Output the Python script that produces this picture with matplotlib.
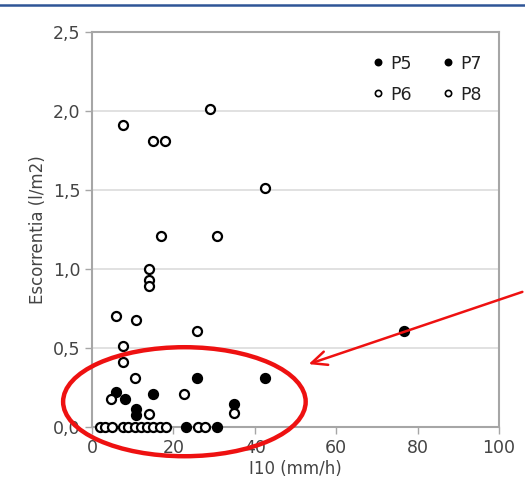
import matplotlib
matplotlib.use('Agg')
import matplotlib.pyplot as plt
from matplotlib.patches import Ellipse
from matplotlib.lines import Line2D

# filled points (P5, P7) and open points (P6, P8)
p5_x = [76.7, 25.8, 42.6, 6.0, 8.0, 15.1]
p5_y = [0.605, 0.31, 0.31, 0.22, 0.18, 0.21]
p7_x = [10.7, 10.7, 34.8, 23.0, 30.6]
p7_y = [0.115, 0.076, 0.146, 0.0, 0.0]
p6_x = [7.7, 15.0, 18.0, 29.0, 42.5, 17.0, 30.7, 14.0, 14.0, 14.0, 5.8, 10.8]
p6_y = [1.91, 1.81, 1.81, 2.01, 1.51, 1.21, 1.21, 1.0, 0.93, 0.89, 0.70, 0.675]
p8_x = [25.9, 7.7, 7.7, 10.6, 4.7, 22.7, 14.0, 34.8,
        1.9, 3.3, 4.8, 7.6, 8.9, 10.5, 12.1, 13.6, 15.0, 16.7, 18.3, 26.1, 27.8]
p8_y = [0.61, 0.51, 0.41, 0.31, 0.18, 0.21, 0.08, 0.087,
        0, 0, 0, 0, 0, 0, 0, 0, 0, 0, 0, 0, 0]

xticks = [0, 20, 40, 60, 80, 100]
yticks = [0.0, 0.5, 1.0, 1.5, 2.0, 2.5]
ytick_labels = ['0,0', '0,5', '1,0', '1,5', '2,0', '2,5']

fig = plt.figure(figsize=(5.25, 4.99), dpi=100)
ax = fig.add_axes([92/525, 1 - 427/499, 407/525, 395/499])

txt = '#444444'
for xs, ys, lab, filled in [(p5_x, p5_y, 'P5', True), (p6_x, p6_y, 'P6', False),
                            (p7_x, p7_y, 'P7', True), (p8_x, p8_y, 'P8', False)]:
    ax.plot(xs, ys, 'o', ms=6.5, mew=1.6, mec='black',
            mfc='black' if filled else 'white', ls='none', label=lab,
            clip_on=False, zorder=3)

ax.set_xlim(0, 100)
ax.set_ylim(0, 2.5)
ax.set_xticks(xticks)
ax.set_yticks(yticks)
ax.set_yticklabels(ytick_labels)
ax.grid(axis='y', color='#dcdcdc', lw=1.2)
ax.set_axisbelow(True)
for s in ax.spines.values():
    s.set_color('#a6a6a6')
    s.set_linewidth(1.5)
ax.tick_params(colors='#a6a6a6', labelcolor=txt, labelsize=12.5, length=5, width=1)
ax.set_xlabel('I10 (mm/h)', fontsize=12, color=txt, labelpad=2)
ax.set_ylabel('Escorrentia (l/m2)', fontsize=12, color=txt, labelpad=4)

handles = [Line2D([], [], marker='o', ls='none', ms=4.5, mew=1.2, mec='black',
                  mfc='black' if f else 'white') for f in [True, False, True, False]]
ax.legend(handles, ['P5', 'P6', 'P7', 'P8'], ncol=2, loc='upper right', frameon=False,
          fontsize=12.5, handletextpad=0.1, columnspacing=1.5, labelspacing=0.75,
          handlelength=1.2, borderaxespad=0, bbox_to_anchor=(1 - 10/407, 1 - 15.6/395),
          labelcolor='#222222')

# red ellipse annotation
ell = Ellipse((22.7, 0.16), 59.6, 0.69, fill=False, ec='#ee1111', lw=3.2, clip_on=False, zorder=4)
ax.add_patch(ell)
ax.annotate('', xy=(306, 499 - 365), xytext=(525, 499 - 291), xycoords='figure pixels',
            textcoords='figure pixels',
            arrowprops=dict(arrowstyle='->,head_length=1.1,head_width=0.5', color='#ee1111', lw=1.8))

# blue header line
fig.add_artist(Line2D([0, 1], [1 - 4.5/499, 1 - 4.5/499], transform=fig.transFigure,
                      color='#2f5597', lw=1.8))

fig.savefig('out.png', dpi=100)
